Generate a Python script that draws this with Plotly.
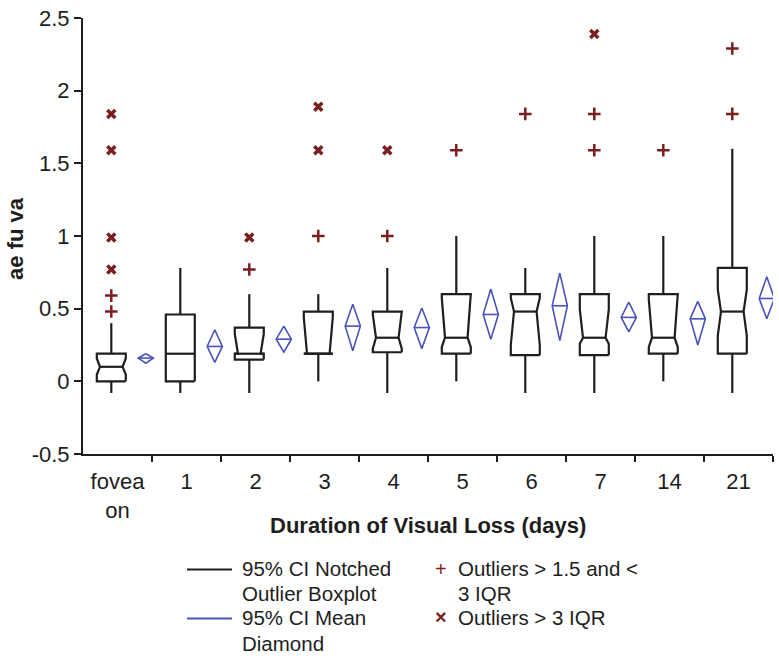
import plotly.graph_objects as go

# ---------------- data ----------------
categories = ["fovea<br>on", "1", "2", "3", "4", "5", "6", "7", "14", "21"]

q1        = [0.00, 0.00, 0.15, 0.19, 0.20, 0.19, 0.18, 0.18, 0.19, 0.19]
median    = [0.10, 0.19, 0.19, 0.19, 0.30, 0.30, 0.48, 0.30, 0.30, 0.48]
q3        = [0.19, 0.46, 0.37, 0.48, 0.48, 0.60, 0.60, 0.60, 0.60, 0.78]
low_fence = [-0.08, -0.08, -0.08, 0.00, -0.08, 0.00, -0.08, -0.08, 0.00, -0.08]
up_fence  = [0.40, 0.78, 0.60, 0.60, 0.78, 1.00, 0.78, 1.00, 1.00, 1.60]
notch_lo  = [0.047, -0.10, 0.10, 0.00, 0.225, 0.236, 0.25, 0.259, 0.236, 0.315]
notch_hi  = [0.157, 0.50, 0.326, 0.44, 0.46, 0.574, 0.574, 0.495, 0.563, 0.63]

mean_val  = [0.16, 0.24, 0.29, 0.38, 0.37, 0.46, 0.52, 0.44, 0.43, 0.57]
mean_lo   = [0.125, 0.13, 0.20, 0.21, 0.225, 0.29, 0.28, 0.34, 0.25, 0.43]
mean_hi   = [0.19, 0.355, 0.38, 0.53, 0.505, 0.635, 0.745, 0.545, 0.55, 0.72]

# outliers: (category index, value)
mild_cat  = [0, 0, 2, 3, 4, 5, 6, 7, 7, 8, 9, 9]
mild_val  = [0.48, 0.59, 0.77, 1.00, 1.00, 1.59, 1.84, 1.59, 1.84, 1.59, 1.84, 2.29]
ext_cat   = [0, 0, 0, 0, 2, 3, 3, 4, 7]
ext_val   = [0.77, 0.99, 1.59, 1.84, 0.99, 1.59, 1.89, 1.59, 2.39]

y_tickvals = [-0.5, 0, 0.5, 1, 1.5, 2, 2.5]
y_ticktext = ["-0.5", "0", "0.5", "1", "1.5", "2", "2.5"]

# ---------------- style ----------------
BOX_OFF = 0.41
DIA_OFF = 0.91
HALF_W = 0.21
NOTCH_R = 0.78
DIA_HW = 0.11
BLACK = "#1e1e1e"
BLUE = "#4a53b8"
RED = "#7a1f1f"
FONT = "Liberation Sans, Arial, sans-serif"

fig = go.Figure()

box_x, box_y = [], []
med_x, med_y = [], []
wh_x, wh_y = [], []
for i in range(len(categories)):
    c = i + BOX_OFF
    w = HALF_W
    lower_n = notch_lo[i] > q1[i] and notch_lo[i] < median[i]
    upper_n = notch_hi[i] < q3[i] and notch_hi[i] > median[i]
    right = [(w, q1[i])]
    if lower_n:
        right += [(w, notch_lo[i]), (w * NOTCH_R, median[i])]
    else:
        right += [(w, median[i])]
    if upper_n:
        if not lower_n:
            right += [(w * NOTCH_R, median[i])]
        right += [(w, notch_hi[i])]
    else:
        if lower_n:
            right += [(w, median[i])]
    right += [(w, q3[i])]
    pts = right + [(-dx, yy) for dx, yy in reversed(right)] + [right[0]]
    for dx, yy in pts:
        box_x.append(c + dx)
        box_y.append(yy)
    box_x.append(None); box_y.append(None)
    mw = w * NOTCH_R if (lower_n and upper_n) else w
    med_x += [c - mw, c + mw, None]
    med_y += [median[i], median[i], None]
    wh_x += [c, c, None, c, c, None]
    wh_y += [q3[i], up_fence[i], None, q1[i], low_fence[i], None]

fig.add_trace(go.Scatter(x=box_x, y=box_y, mode="lines",
                         line=dict(color=BLACK, width=2.2), hoverinfo="skip", showlegend=False))
fig.add_trace(go.Scatter(x=med_x, y=med_y, mode="lines",
                         line=dict(color=BLACK, width=2.2), hoverinfo="skip", showlegend=False))
fig.add_trace(go.Scatter(x=wh_x, y=wh_y, mode="lines",
                         line=dict(color=BLACK, width=2.2), hoverinfo="skip", showlegend=False))

dia_x, dia_y = [], []
for i in range(len(categories)):
    c = i + DIA_OFF
    dia_x += [c, c + DIA_HW, c, c - DIA_HW, c, None, c - DIA_HW, c + DIA_HW, None]
    dia_y += [mean_hi[i], mean_val[i], mean_lo[i], mean_val[i], mean_hi[i], None,
              mean_val[i], mean_val[i], None]
fig.add_trace(go.Scatter(x=dia_x, y=dia_y, mode="lines",
                         line=dict(color=BLUE, width=1.6), hoverinfo="skip", showlegend=False))

fig.add_trace(go.Scatter(x=[c + BOX_OFF for c in mild_cat], y=mild_val, mode="markers",
                         marker=dict(symbol="cross-thin", size=9,
                                     line=dict(color=RED, width=2.5)),
                         showlegend=False))
fig.add_trace(go.Scatter(x=[c + BOX_OFF for c in ext_cat], y=ext_val, mode="markers",
                         marker=dict(symbol="x-thin", size=8,
                                     line=dict(color=RED, width=3.5)),
                         showlegend=False))

# ---------------- layout ----------------
L, R, T, B = 83, 6, 10, 204
W, H = 779, 658
PW, PH = W - L - R, H - T - B

def px(xp):
    return (xp - L) / PW

def py(yp):
    return (H - B - yp) / PH

fig.update_layout(
    width=W, height=H,
    margin=dict(l=L, r=R, t=T, b=B),
    paper_bgcolor="white", plot_bgcolor="white",
    font=dict(family=FONT, size=22, color=BLACK),
    showlegend=False,
    xaxis=dict(range=[0, 10], showgrid=False, zeroline=False,
               showline=True, linecolor=BLACK, linewidth=2,
               tickvals=[i + 0.5 for i in range(len(categories))],
               ticktext=categories,
               ticks="outside", ticklen=7, tickcolor="rgba(0,0,0,0)",
               tickfont=dict(size=22), ticklabeloverflow="allow",
               minor=dict(tickvals=list(range(1, len(categories) + 1)),
                          ticks="outside", ticklen=6, tickwidth=2, tickcolor=BLACK)),
    yaxis=dict(range=[-0.5, 2.5], showgrid=False, zeroline=False,
               showline=True, linecolor=BLACK, linewidth=2,
               tickvals=y_tickvals, ticktext=y_ticktext,
               ticks="outside", ticklen=7, tickwidth=2, tickcolor=BLACK,
               tickfont=dict(size=22), ticklabeloverflow="allow"),
)

ann = []
ann.append(dict(text="<b>Duration of Visual Loss (days)</b>", x=0.5, y=py(527),
                xref="paper", yref="paper", xanchor="center", yanchor="middle",
                showarrow=False, font=dict(size=22)))
ann.append(dict(text="<b>ae fu va</b>", x=px(16), y=py(235), textangle=-90,
                xref="paper", yref="paper", xanchor="center", yanchor="middle",
                showarrow=False, font=dict(size=22)))
leg_text = [
    ("95% CI Notched", 240, 571),
    ("Outlier Boxplot", 240, 596),
    ("95% CI Mean", 240, 621),
    ("Diamond", 240, 647),
    ("Outliers > 1.5 and <", 456, 571),
    ("3 IQR", 456, 596),
    ("Outliers > 3 IQR", 456, 621),
]
for t, xx, yy in leg_text:
    ann.append(dict(text=t, x=px(xx), y=py(yy), xref="paper", yref="paper",
                    xanchor="left", yanchor="middle", showarrow=False,
                    font=dict(size=20.5)))
ann.append(dict(text="+", x=px(441), y=py(571), xref="paper", yref="paper",
                xanchor="center", yanchor="middle", showarrow=False,
                font=dict(size=20, color=RED)))
ann.append(dict(text="<b>×</b>", x=px(441), y=py(620), xref="paper", yref="paper",
                xanchor="center", yanchor="middle", showarrow=False,
                font=dict(size=20, color=RED)))
fig.update_layout(annotations=ann)

fig.add_shape(type="line", xref="paper", yref="paper",
              x0=px(187), x1=px(232), y0=py(571.5), y1=py(571.5),
              line=dict(color=BLACK, width=2))
fig.add_shape(type="line", xref="paper", yref="paper",
              x0=px(187), x1=px(232), y0=py(621.5), y1=py(621.5),
              line=dict(color=BLUE, width=2))

fig.write_html("out.html", config={"displayModeBar": False},
               post_script="document.body.style.margin='0';document.body.style.overflow='hidden';")
